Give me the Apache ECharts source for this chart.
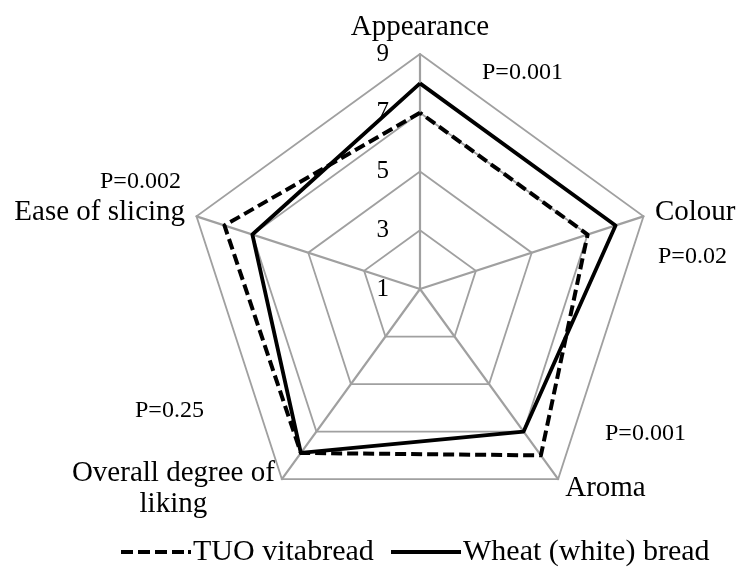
<!DOCTYPE html>
<html>
<head>
<meta charset="utf-8">
<script src="https://cdn.jsdelivr.net/npm/echarts@6/dist/echarts.min.js"></script>
<style>
html,body{margin:0;padding:0;background:#fff;}
#chart{width:739px;height:569px;}
</style>
</head>
<body>
<div id="chart"></div>
<script>
// Categories in the order they appear clockwise from the top
const categories = ['Appearance', 'Colour', 'Aroma', 'Overall degree of liking', 'Ease of slicing'];
const tuoValues = [7.0, 7.0, 8.0, 7.9, 8.0];     // TUO vitabread (dashed)
const wheatValues = [8.0, 8.0, 7.0, 7.9, 7.0];   // Wheat (white) bread (solid)
const pValues = ['P=0.001', 'P=0.02', 'P=0.001', 'P=0.25', 'P=0.002'];
const tickLabels = [1, 3, 5, 7, 9];
const seriesNames = ['TUO vitabread', 'Wheat (white) bread'];

const FONT = "'Liberation Serif', 'Times New Roman', serif";
// ECharts lays indicators counter-clockwise; reorder so they read clockwise
const order = [0, 4, 3, 2, 1];
const tMin = tickLabels[0], tMax = tickLabels[tickLabels.length - 1];
const indicator = order.map((i, k) => {
  const o = { name: categories[i], min: tMin, max: tMax };
  if (k !== 0) o.axisLabel = { show: false };
  return o;
});
const reorder = arr => order.map(i => arr[i]);

const legendBase = {
  top: 532,
  itemWidth: 70,
  itemHeight: 4,
  selectedMode: false,
  textStyle: { fontFamily: FONT, fontSize: 30, color: '#000', padding: [0, 0, 0, -3] }
};

const chart = echarts.init(document.getElementById('chart'), null, { renderer: 'canvas' });
chart.setOption({
  animation: false,
  backgroundColor: '#ffffff',
  color: ['#000000', '#000000'],
  textStyle: { fontFamily: FONT },
  legend: [
    Object.assign({}, legendBase, {
      left: 116,
      data: [{ name: seriesNames[0], icon: 'path://M0,0h12v4h-12z M17,0h12v4h-12z M34,0h12v4h-12z M51,0h12v4h-12z M67,0h3v4h-3z', itemStyle: { color: '#000' } }]
    }),
    Object.assign({}, legendBase, {
      left: 386,
      data: [{ name: seriesNames[1], icon: 'path://M0,0h70v4h-70z', itemStyle: { color: '#000' } }]
    })
  ],
  radar: {
    center: [420, 289],
    radius: 235,
    startAngle: 90,
    splitNumber: tickLabels.length - 1,
    shape: 'polygon',
    indicator: indicator,
    nameGap: 12,
    axisName: {
      color: '#000',
      fontFamily: FONT,
      fontSize: 29,
      formatter: function (name) {
        if (name === 'Overall degree of liking') return '{c|Overall degree of}\n{c|liking}';
        return name;
      },
      rich: {
        c: { align: 'center', fontFamily: FONT, fontSize: 29, lineHeight: 31, color: '#000' }
      }
    },
    axisLine: { show: true, lineStyle: { color: '#a0a0a0', width: 2.2 } },
    splitLine: { show: true, lineStyle: { color: '#a0a0a0', width: 1.8 } },
    splitArea: { show: false },
    axisTick: { show: false },
    axisLabel: {
      show: true,
      margin: 31,
      color: '#000',
      fontFamily: FONT,
      fontSize: 25
    }
  },
  graphic: [
    { type: 'text', left: 482, top: 61, style: { text: pValues[0], font: '24px ' + FONT, fill: '#000' } },
    { type: 'text', left: 658, top: 245, style: { text: pValues[1], font: '24px ' + FONT, fill: '#000' } },
    { type: 'text', left: 605, top: 422, style: { text: pValues[2], font: '24px ' + FONT, fill: '#000' } },
    { type: 'text', left: 135, top: 399, style: { text: pValues[3], font: '24px ' + FONT, fill: '#000' } },
    { type: 'text', left: 100, top: 170, style: { text: pValues[4], font: '24px ' + FONT, fill: '#000' } }
  ],
  series: [
    {
      type: 'radar',
      name: seriesNames[0],
      symbol: 'none',
      z: 2,
      lineStyle: { color: '#000', width: 4, type: [11, 5] },
      itemStyle: { color: '#000' },
      data: [{ value: reorder(tuoValues), name: seriesNames[0] }]
    },
    {
      type: 'radar',
      name: seriesNames[1],
      symbol: 'none',
      z: 3,
      lineStyle: { color: '#000', width: 3.8, type: 'solid' },
      itemStyle: { color: '#000' },
      data: [{ value: reorder(wheatValues), name: seriesNames[1] }]
    }
  ]
});
</script>
</body>
</html>
